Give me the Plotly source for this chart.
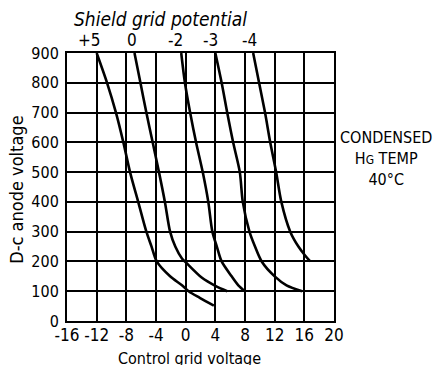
import plotly.graph_objects as go

# Data (control grid voltage, anode voltage)
x_p5 = [-12.0, -10.6, -9.4, -8.4, -7.5, -6.4, -5.3, -4.6, -3.9, -2.1, -0.5, 0.4, 1.9, 3.8]
y_p5 = [900, 800, 700, 600, 500, 400, 300, 250, 200, 150, 120, 100, 78, 52]

x_0 = [-6.9, -6.1, -5.3, -4.45, -3.6, -2.8, -2.1, -1.4, -0.5, 0.1, 2.2, 4.0, 5.6]
y_0 = [900, 800, 700, 600, 500, 400, 300, 250, 210, 195, 145, 118, 100]

x_m2 = [-0.6, -0.1, 0.6, 1.4, 2.3, 3.05, 3.6, 4.2, 4.85, 6.2, 7.1, 8.0]
y_m2 = [900, 800, 700, 600, 500, 400, 300, 250, 200, 150, 120, 100]

x_m3 = [4.0, 4.85, 5.6, 6.4, 7.3, 7.7, 8.6, 9.35, 10.25, 12.0, 13.6, 15.7]
y_m3 = [900, 800, 700, 600, 500, 400, 300, 250, 200, 150, 120, 100]

x_m4 = [9.1, 9.9, 10.7, 11.4, 12.2, 12.9, 14.1, 15.2, 16.1, 16.8]
y_m4 = [900, 800, 700, 600, 500, 400, 300, 250, 220, 200]

series_labels = ["+5", "0", "-2", "-3", "-4"]
label_x = [-13.0, -7.2, -1.4, 3.3, 8.6]

x_ticks = [-16, -12, -8, -4, 0, 4, 8, 12, 16, 20]
y_ticks = [0, 100, 200, 300, 400, 500, 600, 700, 800, 900]

FONT = "DejaVu Sans Condensed, DejaVu Sans, sans-serif"

fig = go.Figure()
for xs, ys, name in zip([x_p5, x_0, x_m2, x_m3, x_m4],
                        [y_p5, y_0, y_m2, y_m3, y_m4], series_labels):
    fig.add_trace(go.Scatter(x=xs, y=ys, mode="lines", name=name,
                             line=dict(color="black", width=2.6, shape="spline", smoothing=0.8),
                             showlegend=False, hoverinfo="skip"))

for lx, lab in zip(label_x, series_labels):
    fig.add_annotation(x=lx, y=1, xref="x", yref="paper", yanchor="bottom",
                       text=lab, showarrow=False, yshift=1,
                       font=dict(family=FONT, size=17, color="black"))

fig.add_annotation(x=0.02, y=1, xref="paper", yref="paper", xanchor="left",
                   yanchor="bottom", yshift=21, text="<i>Shield grid potential</i>",
                   showarrow=False, font=dict(family=FONT, size=19, color="black"))

# Condensed Hg temperature note (to the right of the plot)
fig.add_annotation(x=1.195, y=0.605, xref="paper", yref="paper", xanchor="center",
                   yanchor="middle", align="center",
                   text="CONDENSED<br>H<span style='font-size:12px'>G</span> TEMP<br>40°C",
                   showarrow=False, font=dict(family=FONT, size=16, color="black"))

# Axis titles
fig.add_annotation(x=0.46, y=-0.14, xref="paper", yref="paper", xanchor="center",
                   yanchor="middle", text="Control grid voltage", showarrow=False,
                   font=dict(family=FONT, size=16, color="black"))
fig.add_annotation(x=-0.187, y=0.49, xref="paper", yref="paper", xanchor="center",
                   yanchor="middle", text="D-c anode voltage", textangle=-90,
                   showarrow=False, font=dict(family=FONT, size=18, color="black"))

fig.update_xaxes(range=[-16, 20], tickvals=x_ticks, ticktext=[str(v) for v in x_ticks],
                 showgrid=True, gridcolor="black", gridwidth=1.6, automargin=False,
                 showline=True, linecolor="black", linewidth=2, mirror=True,
                 zeroline=False, ticks="", ticklabelstandoff=-2, tickangle=0,
                 tickfont=dict(family=FONT, size=17, color="black"))
fig.update_yaxes(range=[0, 900], tickvals=y_ticks, ticktext=[str(v) for v in y_ticks],
                 showgrid=True, gridcolor="black", gridwidth=1.6, automargin=False,
                 showline=True, linecolor="black", linewidth=2, mirror=True,
                 zeroline=False, ticks="", ticklabelstandoff=3,
                 tickfont=dict(family=FONT, size=16, color="black"))

fig.update_layout(width=436, height=365, margin=dict(l=67, r=102, t=53, b=44),
                  plot_bgcolor="white", paper_bgcolor="white")

fig.write_html("out.html", config={"displayModeBar": False},
               post_script="document.body.style.margin='0';document.body.style.overflow='hidden';")
